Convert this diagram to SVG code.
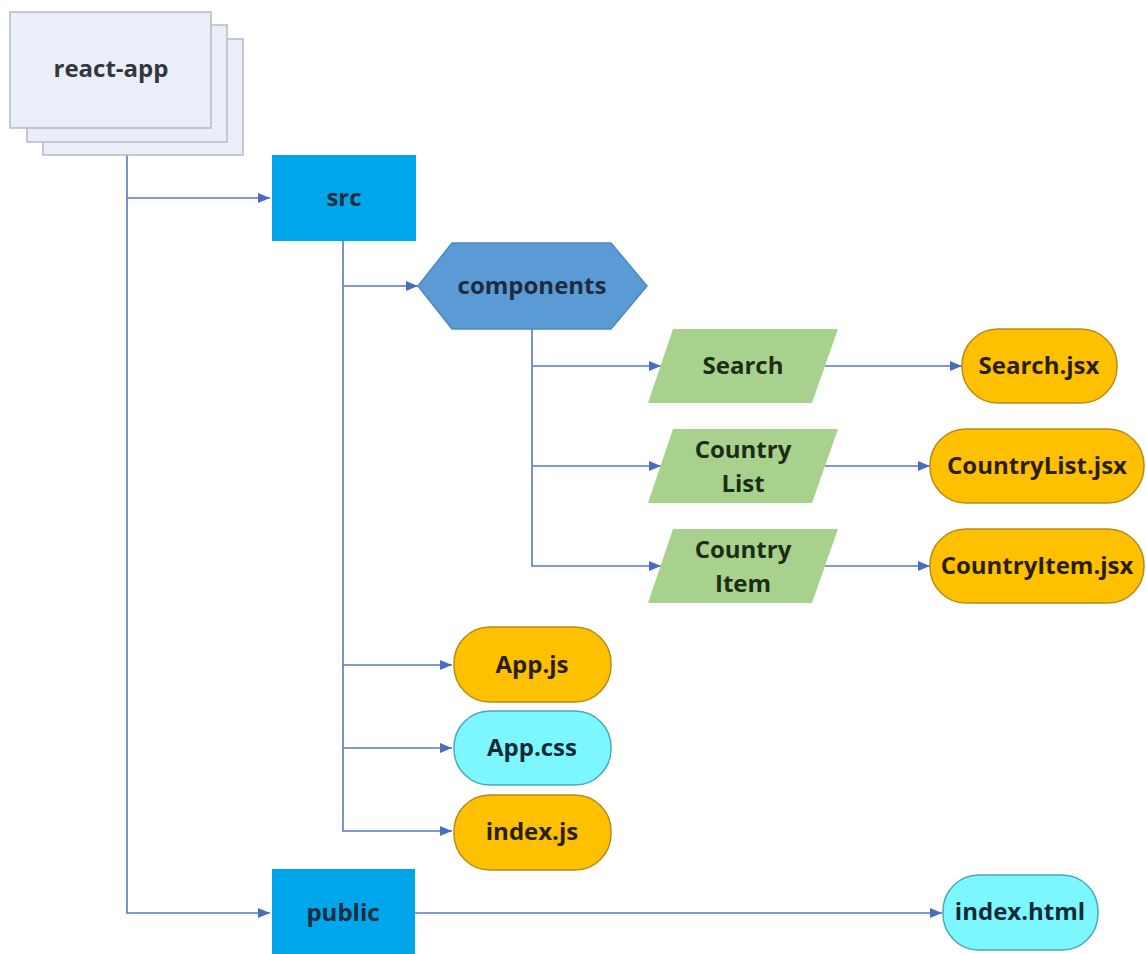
<svg xmlns="http://www.w3.org/2000/svg" width="1146" height="954" viewBox="0 0 1146 954">
  <defs>
    <marker id="arrow" markerUnits="userSpaceOnUse" markerWidth="12" markerHeight="10" refX="12" refY="5" orient="auto">
      <path d="M0,0 L12,5 L0,10 z" fill="#4A6CC0"/>
    </marker>
    <style>
      text { font-family: "Open Sans", "Noto Sans", sans-serif; font-weight: 700; font-size: 24px; text-anchor: middle; dominant-baseline: central; }
      .edge { fill: none; stroke: #5A78C2; stroke-width: 1.6; }
      .arr { marker-end: url(#arrow); }
      .stack { fill: #E9EEF8; stroke: #B5BAC6; stroke-width: 1.5; }
      .folder { fill: #00A6EA; }
      .hex { fill: #5B9BD5; stroke: #4C88C4; stroke-width: 1.5; }
      .para { fill: #A9D18E; }
      .js { fill: #FFC000; stroke: #B58B1A; stroke-width: 1.5; }
      .css { fill: #7DF7FF; stroke: #4AA7B8; stroke-width: 1.5; }
      .t-dark { fill: #1C2B40; }
      .t-grey { fill: #33363D; }
      .t-green { fill: #1B2E14; }
      .t-file { fill: #2A1F05; }
      .t-cyan { fill: #0F2A33; }
    </style>
  </defs>

  <rect width="1146" height="954" fill="#FFFFFF"/>

  <!-- connectors -->
  <g id="connectors">
    <path class="edge arr" d="M127 155 V913 H270"/>
    <path class="edge arr" d="M127 198 H270"/>
    <path class="edge arr" d="M343 241 V831 H452"/>
    <path class="edge arr" d="M343 286 H418"/>
    <path class="edge arr" d="M343 665 H452"/>
    <path class="edge arr" d="M343 748 H452"/>
    <path class="edge arr" d="M532 329 V566 H661"/>
    <path class="edge arr" d="M532 366 H661"/>
    <path class="edge arr" d="M532 466 H661"/>
    <path class="edge arr" d="M825 366 H962"/>
    <path class="edge arr" d="M825 466 H930"/>
    <path class="edge arr" d="M825 566 H930"/>
    <path class="edge arr" d="M415 913 H942"/>
  </g>

  <!-- root folder drawn as a stack of sheets -->
  <g id="react-app">
    <rect class="stack" x="43" y="39" width="200" height="116"/>
    <rect class="stack" x="27" y="25" width="200" height="117"/>
    <rect class="stack" x="10" y="12" width="201" height="116"/>
    <text class="t-grey" x="111" y="67">react-app</text>
  </g>

  <g id="src">
    <rect class="folder" x="272" y="155" width="144" height="86"/>
    <text class="t-dark" x="344" y="196">src</text>
  </g>

  <g id="components">
    <polygon class="hex" points="418,286 452,243 611,243 647,286 611,329 452,329"/>
    <text class="t-dark" x="532" y="284">components</text>
  </g>

  <g id="search">
    <polygon class="para" points="673,329 838,329 812,403 648,403"/>
    <text class="t-green" x="743" y="364">Search</text>
  </g>

  <g id="country-list">
    <polygon class="para" points="673,429 838,429 812,503 648,503"/>
    <text class="t-green" x="743" y="448">Country</text>
    <text class="t-green" x="743" y="482">List</text>
  </g>

  <g id="country-item">
    <polygon class="para" points="673,529 838,529 812,603 648,603"/>
    <text class="t-green" x="743" y="548">Country</text>
    <text class="t-green" x="743" y="582">Item</text>
  </g>

  <g id="search-jsx">
    <rect class="js" x="962" y="329" width="155" height="74" rx="36"/>
    <text class="t-file" x="1039" y="364">Search.jsx</text>
  </g>

  <g id="countrylist-jsx">
    <rect class="js" x="930" y="429" width="214" height="74" rx="36"/>
    <text class="t-file" x="1037" y="464">CountryList.jsx</text>
  </g>

  <g id="countryitem-jsx">
    <rect class="js" x="930" y="529" width="214" height="74" rx="36"/>
    <text class="t-file" x="1037" y="564">CountryItem.jsx</text>
  </g>

  <g id="app-js">
    <rect class="js" x="454" y="627" width="157" height="75" rx="36"/>
    <text class="t-file" x="532" y="663">App.js</text>
  </g>

  <g id="app-css">
    <rect class="css" x="454" y="711" width="157" height="74" rx="36"/>
    <text class="t-cyan" x="532" y="746">App.css</text>
  </g>

  <g id="index-js">
    <rect class="js" x="454" y="795" width="157" height="75" rx="36"/>
    <text class="t-file" x="532" y="830">index.js</text>
  </g>

  <g id="public">
    <rect class="folder" x="272" y="869" width="143" height="90"/>
    <text class="t-dark" x="343" y="911">public</text>
  </g>

  <g id="index-html">
    <rect class="css" x="943" y="875" width="155" height="75" rx="36"/>
    <text class="t-cyan" x="1020" y="910">index.html</text>
  </g>
</svg>
